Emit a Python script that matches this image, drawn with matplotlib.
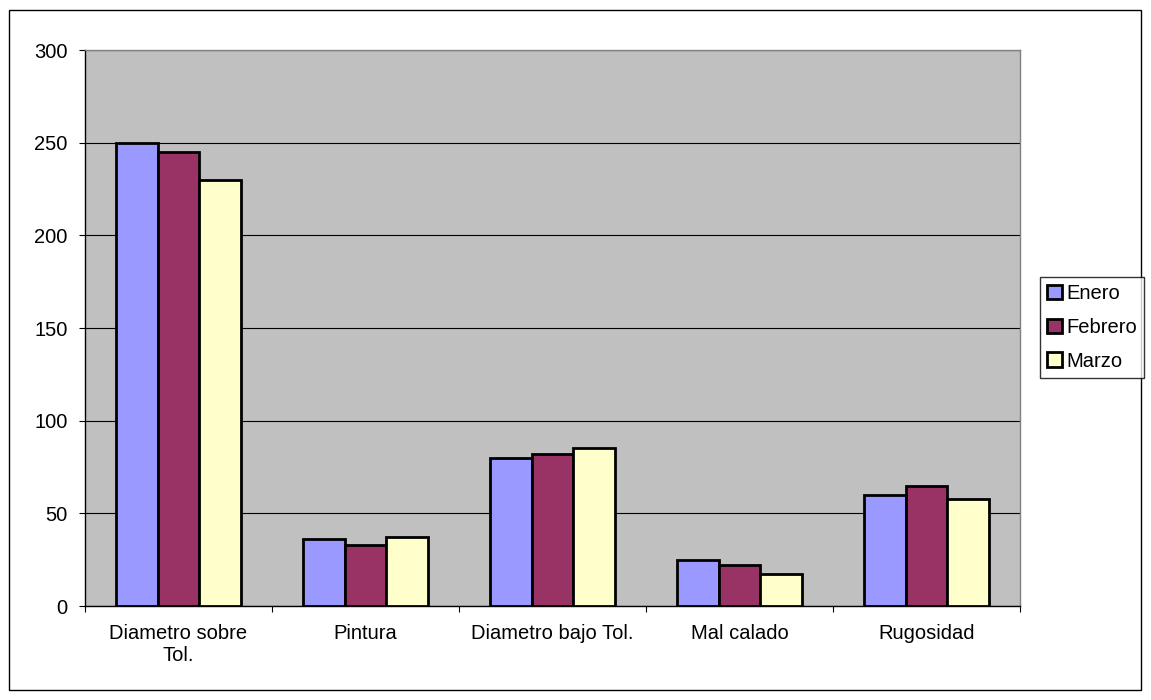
import matplotlib
matplotlib.use("Agg")
import matplotlib.pyplot as plt
import numpy as np
from matplotlib.patches import Rectangle

categories = ["Diametro sobre\nTol.", "Pintura", "Diametro bajo Tol.", "Mal calado", "Rugosidad"]
series_names = ["Enero", "Febrero", "Marzo"]
enero = [250, 36, 80, 25, 60]
febrero = [245, 33, 82, 22, 65]
marzo = [230, 37, 85, 17, 58]
colors = ["#9999FF", "#993366", "#FFFFCC"]
yticks = [0, 50, 100, 150, 200, 250, 300]

plt.rcParams['font.family'] = ['Liberation Sans', 'DejaVu Sans']
FS = 14.5

fig = plt.figure(figsize=(11.51, 7.0), dpi=100)
fig.patch.set_facecolor("white")
fig.add_artist(Rectangle((9/1151, 10/700), 1132/1151, 680/700, transform=fig.transFigure,
                         fill=False, edgecolor="black", linewidth=1.0))

ax = fig.add_axes([85/1151, 94/700, 935/1151, 556/700])
ax.set_facecolor("#C0C0C0")

x = np.arange(len(categories))
w = 0.222
for i, (vals, c, name) in enumerate(zip([enero, febrero, marzo], colors, series_names)):
    ax.bar(x + (i - 1) * w, vals, width=w, color=c, edgecolor="black", linewidth=2.0,
           label=name, zorder=3)

ax.set_xlim(-0.5, len(categories) - 0.5)
ax.set_ylim(0, 300)
ax.set_yticks(yticks)
ax.set_yticklabels([str(v) for v in yticks], fontsize=FS)
ax.yaxis.grid(True, color="black", linewidth=0.8, zorder=1)
ax.set_axisbelow(True)

ax.set_xticks(np.arange(len(categories) + 1) - 0.5)
ax.set_xticklabels([])
ax.set_xticks(x, minor=True)
ax.set_xticklabels(categories, minor=True, fontsize=FS)
ax.tick_params(axis="x", which="minor", length=0, pad=13)
ax.tick_params(axis="x", which="major", length=4.5, color="black", direction="out")
ax.tick_params(axis="y", length=4.5, direction="out", pad=8)

for s in ["left", "bottom"]:
    ax.spines[s].set_color("black")
    ax.spines[s].set_linewidth(1.0)
for s in ["top", "right"]:
    ax.spines[s].set_color("#808080")
    ax.spines[s].set_linewidth(1.0)

leg = fig.legend(loc="upper left", bbox_to_anchor=(1040/1151, 1 - 277/700), fontsize=FS,
                 frameon=True, fancybox=False, edgecolor="black", handlelength=0.75,
                 handleheight=0.75, handletextpad=0.2, borderpad=0.35, labelspacing=0.74,
                 borderaxespad=0)
leg.get_frame().set_linewidth(1.0)
for h in leg.legend_handles:
    h.set_linewidth(2.0)

fig.savefig("out.png", dpi=100)
